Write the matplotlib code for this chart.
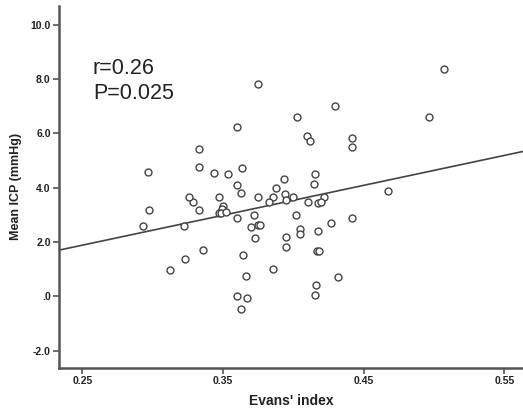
import numpy as np
import matplotlib
matplotlib.use("Agg")
import matplotlib.pyplot as plt

# Evans' index (x) and mean ICP in mmHg (y)
evans_index = [
    0.2967, 0.2974, 0.2931, 0.3120, 0.3232, 0.3226, 0.3356, 0.3331, 0.3285, 0.3258,
    0.3468, 0.3331, 0.3332, 0.3436, 0.3538, 0.3600, 0.3635, 0.3596, 0.3631, 0.3745,
    0.3749, 0.5071, 0.4294, 0.4028, 0.4963, 0.4099, 0.4116, 0.4419, 0.4418, 0.4155,
    0.4147, 0.3936, 0.3873, 0.3937, 0.4675, 0.3853, 0.3994, 0.4221, 0.3498, 0.3491,
    0.3468, 0.3486, 0.3521, 0.3601, 0.3829, 0.3946, 0.4101, 0.4173, 0.4197, 0.3720,
    0.4019, 0.3697, 0.3752, 0.3763, 0.4264, 0.4047, 0.4049, 0.4173, 0.3727, 0.3946,
    0.3950, 0.4170, 0.4182, 0.3641, 0.4417, 0.3855, 0.4317, 0.4163, 0.4155, 0.3663,
    0.3596, 0.3673, 0.3626,
]
mean_icp = [
    4.58, 3.19, 2.58, 0.97, 1.36, 2.59, 1.71, 3.16, 3.49, 3.66,
    3.64, 4.77, 5.41, 4.53, 4.51, 6.22, 4.73, 4.10, 3.82, 7.81,
    3.65, 8.36, 7.00, 6.62, 6.59, 5.91, 5.71, 5.84, 5.49, 4.52,
    4.12, 4.32, 3.98, 3.78, 3.87, 3.64, 3.65, 3.65, 3.33, 3.20,
    3.05, 3.08, 3.09, 2.87, 3.48, 3.53, 3.49, 3.45, 3.46, 2.98,
    2.98, 2.56, 2.62, 2.61, 2.71, 2.49, 2.31, 2.41, 2.14, 2.19,
    1.82, 1.65, 1.65, 1.52, 2.87, 1.02, 0.71, 0.42, 0.06, 0.75,
    0.01, -0.06, -0.48,
]
x_ticks = [0.25, 0.35, 0.45, 0.55]
x_tick_labels = ["0.25", "0.35", "0.45", "0.55"]
y_ticks = [-2.0, 0.0, 2.0, 4.0, 6.0, 8.0, 10.0]
y_tick_labels = ["-2.0", ".0", "2.0", "4.0", "6.0", "8.0", "10.0"]
stats_text = "r=0.26\nP=0.025"

plt.rcParams['font.family'] = ['Liberation Sans', 'DejaVu Sans']

fig = plt.figure(figsize=(5.23, 4.11), dpi=100)
ax = fig.add_axes([0.1128, 0.1054, 0.8872, 0.880])

x = np.array(evans_index)
y = np.array(mean_icp)
ax.plot(x, y, linestyle='none', marker='o', markersize=5.0,
        markerfacecolor='white', markeredgecolor='#444444', markeredgewidth=1.0,
        zorder=3)

xlim = (0.2334, 0.5632)
ylim = (-2.63, 10.69)
slope, intercept = np.polyfit(x, y, 1)
xs = np.array(xlim)
ax.plot(xs, slope * xs + intercept, color='#444444', linewidth=1.2, zorder=2)

ax.set_xlim(*xlim)
ax.set_ylim(*ylim)
ax.set_xticks(x_ticks)
ax.set_xticklabels(x_tick_labels)
ax.set_yticks(y_ticks)
ax.set_yticklabels(y_tick_labels)

for s in ['top', 'right']:
    ax.spines[s].set_visible(False)
for s in ['left', 'bottom']:
    ax.spines[s].set_color('#555555')
    ax.spines[s].set_linewidth(1.8)

ax.tick_params(axis='both', direction='out', length=4.5, width=1.2,
               color='#555555', pad=1.5, labelsize=7.5, labelcolor='#222222')
for lab in ax.get_xticklabels() + ax.get_yticklabels():
    lab.set_fontweight('bold')

ax.set_xlabel("Evans' index", fontsize=10, fontweight='bold', color='#222222', labelpad=6)
ax.set_ylabel("Mean ICP (mmHg)", fontsize=9, fontweight='bold', color='#222222', labelpad=6)

ax.text(0.073, 0.855, stats_text, transform=ax.transAxes, fontsize=15.5,
        color='#222222', va='top', ha='left', linespacing=1.25)

fig.savefig("out.png", dpi=100)
